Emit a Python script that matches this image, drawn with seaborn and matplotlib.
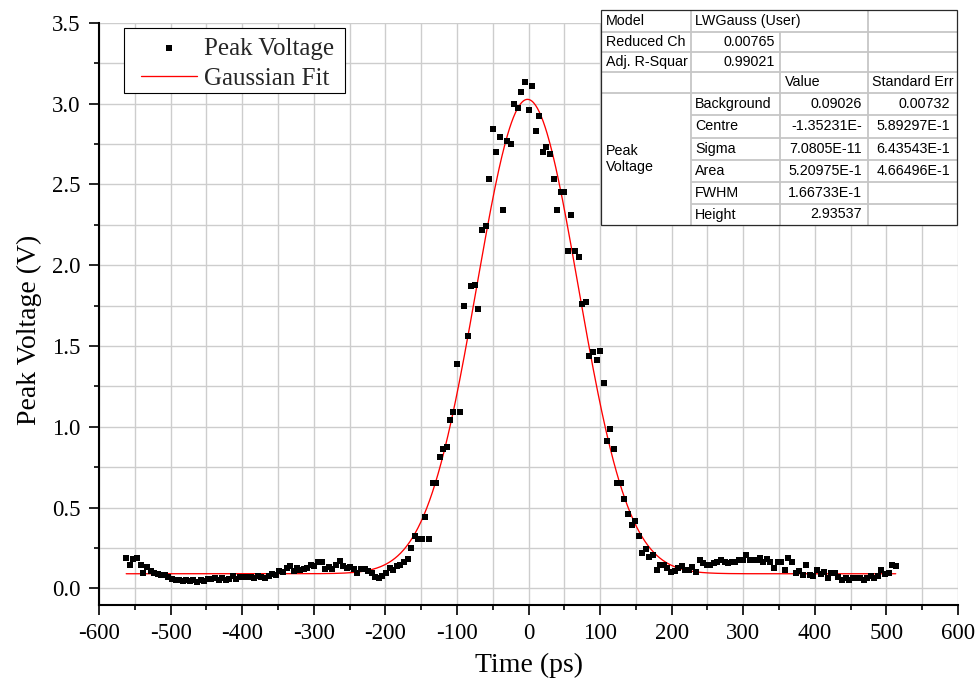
import numpy as np
import pandas as pd
import matplotlib
matplotlib.use("Agg")
import matplotlib.pyplot as plt
from matplotlib.patches import Rectangle
from matplotlib.ticker import FixedLocator, MultipleLocator
from matplotlib.transforms import IdentityTransform
import seaborn as sns

# ---------------- data ----------------
time_ps = [
    -562, -557, -552, -547, -542,
    -538, -533, -528, -523, -518, -513, -508, -503, -498, -493,
    -488, -483, -478, -473, -468, -463, -458, -453, -448, -443,
    -438, -433, -428, -423, -418, -413, -408, -403, -398, -393,
    -388, -383, -378, -373, -368, -363, -358, -353, -348, -343,
    -338, -333, -328,
    -324, -319, -314, -309, -304, -299, -294, -289, -284, -279,
    -274, -269, -264, -259, -254, -249, -244, -239, -234, -229,
    -224, -219, -214, -209, -204, -199, -194, -189, -184, -179,
    -174, -169, -164, -159, -154, -149, -144, -139, -134, -129,
    -124, -119, -114, -109,
    -105, -100, -95, -90, -85, -80, -75, -70, -65, -60,
    -55, -50, -45, -40, -35, -30, -25, -20, -15, -10,
    -5, 0, 5, 10, 15, 20, 25, 30, 35, 40,
    45, 50, 55, 60, 65, 70, 75, 80, 85, 90,
    95, 100, 105,
    109, 114, 119, 124, 129, 134, 139, 144, 149, 154,
    159, 164, 169, 174, 179, 184, 189, 194, 199, 204,
    209, 214, 219, 224, 229, 234, 239, 244, 249, 254,
    259, 264, 269, 274, 279, 284, 289, 294, 299, 304,
    309, 314, 319, 324,
    328, 333, 338, 343, 348, 353, 358, 363, 368, 373,
    378, 383, 388, 393, 398, 403, 408, 413, 418, 423,
    428, 433, 438, 443, 448, 453, 458, 463, 468, 473,
    478, 483, 488, 493, 498, 503, 508, 513,
]

peak_voltage = [
    0.185, 0.145, 0.18, 0.19, 0.145, 0.095, 0.13, 0.11, 0.095, 0.09,
    0.085, 0.08, 0.07, 0.055, 0.05, 0.05, 0.047, 0.05, 0.045, 0.05,
    0.04, 0.05, 0.045, 0.055, 0.06, 0.065, 0.05, 0.065, 0.05, 0.06,
    0.075, 0.06, 0.07, 0.07, 0.068, 0.072, 0.061, 0.078, 0.068, 0.061,
    0.078, 0.088, 0.084, 0.109, 0.099, 0.125, 0.14, 0.109, 0.123, 0.113,
    0.119, 0.125, 0.146, 0.14, 0.16, 0.166, 0.119, 0.133, 0.119, 0.146,
    0.17, 0.14, 0.125, 0.129, 0.119, 0.092, 0.119, 0.119, 0.109, 0.092,
    0.068, 0.063, 0.078, 0.092, 0.125, 0.113, 0.14, 0.146, 0.16, 0.181,
    0.249, 0.325, 0.304, 0.304, 0.442, 0.304, 0.654, 0.654, 0.815, 0.864,
    0.874, 1.04, 1.09, 1.39, 1.09, 1.75, 1.56, 1.87, 1.88, 1.73,
    2.22, 2.24, 2.53, 2.84, 2.70, 2.79, 2.34, 2.77, 2.75, 3.00,
    2.97, 3.07, 3.13, 2.96, 3.11, 2.83, 2.92, 2.70, 2.73, 2.69,
    2.53, 2.34, 2.45, 2.45, 2.09, 2.31, 2.09, 2.05, 1.76, 1.77,
    1.44, 1.46, 1.41, 1.47, 1.27, 0.911, 0.983, 0.862, 0.652, 0.652,
    0.553, 0.463, 0.393, 0.414,
    0.325, 0.216, 0.243, 0.197, 0.206, 0.113, 0.146, 0.146, 0.125, 0.102,
    0.105, 0.125, 0.136, 0.115, 0.115, 0.134, 0.102, 0.174, 0.156, 0.146,
    0.146, 0.156, 0.16, 0.174, 0.166, 0.156, 0.166, 0.16, 0.174, 0.177,
    0.206, 0.174, 0.174, 0.174, 0.187, 0.166, 0.181, 0.166, 0.123, 0.16,
    0.166, 0.115, 0.185, 0.164, 0.092, 0.105, 0.084, 0.146, 0.084, 0.078,
    0.115, 0.088, 0.102, 0.061, 0.098, 0.098, 0.068, 0.053, 0.063, 0.053,
    0.063, 0.063, 0.063, 0.053, 0.063, 0.074, 0.063, 0.078, 0.115, 0.088,
    0.098, 0.146, 0.136,
]

# Gaussian fit parameters (as printed in the chart's table, time in ps)
fit_background = 0.09026
fit_centre_ps = -1.35231
fit_sigma_ps = 70.805
fit_height = 2.93537
fit_range_ps = [-562, 513]

x_ticks = [-600, -500, -400, -300, -200, -100, 0, 100, 200, 300, 400, 500, 600]
y_ticks = [0.0, 0.5, 1.0, 1.5, 2.0, 2.5, 3.0, 3.5]
x_label = "Time (ps)"
y_label = "Peak Voltage (V)"
series_label = "Peak Voltage"
fit_label = "Gaussian Fit"

table_top_rows = [("Model", "LWGauss (User)"),
                  ("Reduced Ch", "0.00765"),
                  ("Adj. R-Squar", "0.99021")]
table_columns = ["Value", "Standard Err"]
param_group = "Peak\nVoltage"
param_names = ["Background", "Centre", "Sigma", "Area", "FWHM", "Height"]
param_values = ["0.09026", "-1.35231E-", "7.0805E-11", "5.20975E-1",
                "1.66733E-1", "2.93537"]
param_errors = ["0.00732", "5.89297E-1", "6.43543E-1", "4.66496E-1", "", ""]

# ---------------- style ----------------
sns.set_theme(style="white")
plt.rcParams["font.family"] = ["Liberation Serif", "DejaVu Serif"]
plt.rcParams["axes.unicode_minus"] = False

W, H = 980, 683
fig = plt.figure(figsize=(W / 100, H / 100), dpi=100)
ax_l, ax_r, ax_t, ax_b = 99, 958, 22.7, 604.5
ax = fig.add_axes([ax_l / W, 1 - ax_b / H, (ax_r - ax_l) / W, (ax_b - ax_t) / H])

df = pd.DataFrame({"time": time_ps, "voltage": peak_voltage})
fit_x = np.linspace(fit_range_ps[0], fit_range_ps[1], 800)
fit_y = fit_background + fit_height * np.exp(
    -0.5 * ((fit_x - fit_centre_ps) / fit_sigma_ps) ** 2)
fit_df = pd.DataFrame({"time": fit_x, "voltage": fit_y})

sns.lineplot(data=fit_df, x="time", y="voltage", ax=ax, color="#ff0000",
             lw=0.95, label=fit_label, zorder=2, estimator=None, sort=False)
sns.scatterplot(data=df, x="time", y="voltage", ax=ax, marker="s", s=13,
                color="black", linewidth=0, label=series_label, zorder=3)

ax.set_xlim(-600, 600)
ax.set_ylim(-0.1, 3.5)
ax.xaxis.set_major_locator(FixedLocator(x_ticks))
ax.xaxis.set_minor_locator(MultipleLocator(50))
ax.yaxis.set_major_locator(FixedLocator(y_ticks))
ax.yaxis.set_minor_locator(MultipleLocator(0.25))
ax.set_xticklabels([f"{v:d}" for v in x_ticks])
ax.set_yticklabels([f"{v:.1f}" for v in y_ticks])

ax.grid(True, which="both", color="#cdcdcd", lw=1.0)
ax.set_axisbelow(True)
for s in ["top", "right"]:
    ax.spines[s].set_visible(False)
for s in ["left", "bottom"]:
    ax.spines[s].set_linewidth(1.5)
    ax.spines[s].set_color("black")

ax.tick_params(which="major", direction="out", length=7.5, width=1.2,
               labelsize=16.5, pad=6, colors="black", left=True, bottom=True)
ax.tick_params(which="minor", direction="out", length=3.8, width=1.2,
               colors="black", left=True, bottom=True)

ax.set_xlabel(x_label, fontsize=20, color="black")
ax.set_ylabel(y_label, fontsize=20, color="black")
ax.xaxis.set_label_coords(0.5, -0.083)
ax.yaxis.set_label_coords(-0.066, 0.472)

handles, labels = ax.get_legend_handles_labels()
order = [labels.index(series_label), labels.index(fit_label)]
leg = ax.legend([handles[i] for i in order], [labels[i] for i in order],
                loc="upper left", bbox_to_anchor=(141 / W, 1 - 37.2 / H),
                bbox_transform=fig.transFigure, frameon=False,
                fontsize=18, borderpad=0, labelspacing=0.32,
                handlelength=2.24, handletextpad=0.28,
                borderaxespad=0, scatterpoints=1)
leg.set_zorder(6)

# legend frame with the reference's uneven padding
fig.canvas.draw()
bb = leg.get_window_extent()
pad_l, pad_r, pad_t, pad_b = 17, 11, 8.9, 3.0
ax.add_patch(Rectangle((bb.x0 - pad_l, bb.y0 - pad_b),
                       bb.width + pad_l + pad_r, bb.height + pad_t + pad_b,
                       transform=IdentityTransform(), facecolor="white",
                       edgecolor="black", lw=0.8, zorder=5.5, clip_on=False))

# ---------------- parameter table (overlay, pixel coordinates) ----------------
tab = fig.add_axes([0, 0, 1, 1], zorder=10)
tab.set_xlim(0, W)
tab.set_ylim(H, 0)
tab.axis("off")

cols = [601, 690.7, 780, 867.7, 957]
rows = [10, 31.7, 51.7, 71.7, 93.3, 115, 137.7, 160, 182.3, 204, 225]
grid_c = "#c6c6c6"
tab.add_patch(Rectangle((cols[0], rows[0]), cols[-1] - cols[0],
                        rows[-1] - rows[0], facecolor="white",
                        edgecolor="none", zorder=1))
line_kw = dict(color=grid_c, lw=1.3, solid_capstyle="butt", zorder=2)
for r in rows[1:5]:
    tab.plot([cols[0], cols[-1]], [r, r], **line_kw)
for r in rows[5:-1]:
    tab.plot([cols[1], cols[-1]], [r, r], **line_kw)
tab.plot([cols[1], cols[1]], [rows[0], rows[-1]], **line_kw)
tab.plot([cols[2], cols[2]], [rows[1], rows[-1]], **line_kw)
tab.plot([cols[3], cols[3]], [rows[0], rows[-1]], **line_kw)
tab.add_patch(Rectangle((cols[0], rows[0]), cols[-1] - cols[0],
                        rows[-1] - rows[0], facecolor="none",
                        edgecolor="#2a2a2a", lw=0.9, zorder=3))

tkw = dict(fontsize=10.3, family=["Liberation Sans", "DejaVu Sans"],
           color="black", va="center", zorder=4)


def rc(i):
    return (rows[i] + rows[i + 1]) / 2


for i, (name, val) in enumerate(table_top_rows):
    tab.text(cols[0] + 5, rc(i), name, ha="left", **tkw)
    if i == 0:
        tab.text(cols[1] + 4.5, rc(i), val, ha="left", **tkw)
    else:
        tab.text(cols[2] - 5, rc(i), val, ha="right", **tkw)
tab.text(cols[2] + 5, rc(3), table_columns[0], ha="left", **tkw)
tab.text(cols[3] + 4, rc(3), table_columns[1], ha="left", **tkw)
tab.text(cols[0] + 5, (rows[4] + rows[-1]) / 2, param_group, ha="left",
         linespacing=1.15, **tkw)
for j, (n, v, e) in enumerate(zip(param_names, param_values, param_errors)):
    i = 4 + j
    tab.text(cols[1] + 4.5, rc(i), n, ha="left", **tkw)
    tab.text(cols[3] - 6, rc(i), v, ha="right", **tkw)
    if e:
        tab.text(cols[-1] - 7, rc(i), e, ha="right", **tkw)

fig.savefig("out.png", dpi=100)
